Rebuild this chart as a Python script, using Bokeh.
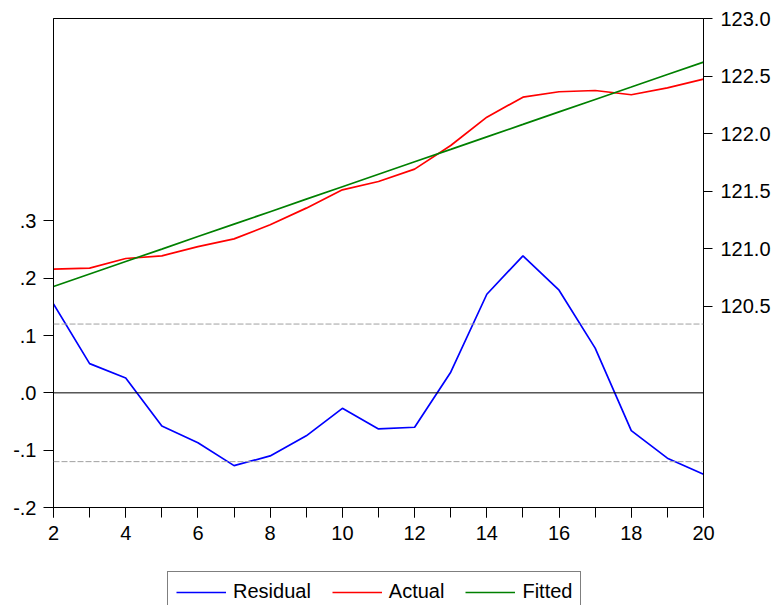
from bokeh.plotting import figure
from bokeh.layouts import column
from bokeh.models import (Range1d, LinearAxis, Span, Legend, LegendItem,
                          FixedTicker, SingleIntervalTicker, NumeralTickFormatter)
from bokeh.embed import file_html
from bokeh.resources import INLINE

obs = list(range(2, 21))
residual = [0.155, 0.051, 0.026, -0.058, -0.087, -0.127, -0.110, -0.075, -0.027,
            -0.063, -0.060, 0.036, 0.172, 0.239, 0.179, 0.078, -0.066, -0.114, -0.142]
actual = [120.821, 120.829, 120.913, 120.936, 121.017, 121.084, 121.206, 121.351,
          121.510, 121.583, 121.690, 121.896, 122.142, 122.316, 122.363, 122.374,
          122.337, 122.397, 122.473]
fitted = [120.670, 120.778, 120.887, 120.995, 121.104, 121.212, 121.320, 121.429,
          121.537, 121.646, 121.754, 121.862, 121.971, 122.079, 122.188, 122.296,
          122.404, 122.513, 122.621]
series_names = ["Residual", "Actual", "Fitted"]
series_colors = ["#0000ff", "#ff0000", "#008000"]
se_band = 0.12
left_ticks = [-0.2, -0.1, 0.0, 0.1, 0.2, 0.3]
left_labels = {-0.2: "-.2", -0.1: "-.1", 0.0: ".0", 0.1: ".1", 0.2: ".2", 0.3: ".3"}
right_ticks = [120.5, 121.0, 121.5, 122.0, 122.5, 123.0]

FONT = "Liberation Sans"
FS = "20px"

p = figure(width=776, height=560, output_backend="svg", toolbar_location=None,
           x_range=Range1d(2, 20), y_range=Range1d(-0.2, 0.653),
           min_border_left=53, min_border_right=73, min_border_top=18,
           min_border_bottom=53)
p.extra_y_ranges = {"right": Range1d(118.748, 123.0)}
p.grid.visible = False
p.outline_line_color = "black"
p.outline_line_width = 1
p.background_fill_color = "white"
p.border_fill_color = "white"

# x axis
xa = p.xaxis[0]
xa.ticker = SingleIntervalTicker(interval=2, num_minor_ticks=2)
xa.major_tick_out = 10
xa.major_tick_in = 0
xa.minor_tick_out = 10
xa.minor_tick_in = 0
xa.major_label_standoff = 8
xa.major_label_text_font = FONT
xa.major_label_text_font_size = FS
xa.major_label_text_color = "black"
xa.axis_line_color = "black"

# left axis
ya = p.yaxis[0]
ya.ticker = FixedTicker(ticks=left_ticks)
ya.major_label_overrides = left_labels
ya.major_tick_out = 10
ya.major_tick_in = 0
ya.minor_tick_line_color = None
ya.major_label_standoff = 7
ya.major_label_text_font = FONT
ya.major_label_text_font_size = FS
ya.major_label_text_color = "black"

# right axis
ra = LinearAxis(y_range_name="right", ticker=FixedTicker(ticks=right_ticks),
                formatter=NumeralTickFormatter(format="0.0"))
ra.major_tick_out = 9
ra.major_tick_in = 0
ra.minor_tick_line_color = None
ra.major_label_standoff = 8
ra.major_label_text_font = FONT
ra.major_label_text_font_size = FS
ra.major_label_text_color = "black"
p.add_layout(ra, "right")

# reference lines
p.add_layout(Span(location=0, dimension="width", line_color="black", line_width=1))
for loc in (se_band, -se_band):
    p.add_layout(Span(location=loc, dimension="width", line_color="#a0a0a0",
                      line_width=1, line_dash="6 2"))

p.line(obs, residual, line_color=series_colors[0], line_width=1.7)
p.line(obs, actual, line_color=series_colors[1], line_width=1.7, y_range_name="right")
p.line(obs, fitted, line_color=series_colors[2], line_width=1.7, y_range_name="right")

# legend strip below the chart (its ranges keep the series themselves out of view)
lg = figure(width=776, height=45, output_backend="svg", toolbar_location=None,
            x_axis_location=None, y_axis_location=None,
            min_border_left=0, min_border_right=0, min_border_top=0,
            min_border_bottom=0, x_range=Range1d(-2, -1), y_range=Range1d(-2, -1))
lg.grid.visible = False
lg.outline_line_color = None
items = []
for name, col, vals in zip(series_names, series_colors, [residual, actual, fitted]):
    r = lg.line(obs, vals, line_color=col, line_width=1.7)
    items.append(LegendItem(label=name, renderers=[r]))

legend = Legend(items=items, orientation="horizontal", location=(114, -7))
legend.glyph_width = 50
legend.glyph_height = 20
legend.label_standoff = 7
legend.spacing = 21
legend.padding = 8
legend.margin = 0
legend.label_height = 20
legend.label_text_font = FONT
legend.label_text_font_size = FS
legend.label_text_color = "black"
legend.border_line_color = "black"
legend.border_line_width = 1
legend.background_fill_alpha = 1
lg.add_layout(legend)

open("out.html", "w").write(file_html(column(p, lg, spacing=0), INLINE))
